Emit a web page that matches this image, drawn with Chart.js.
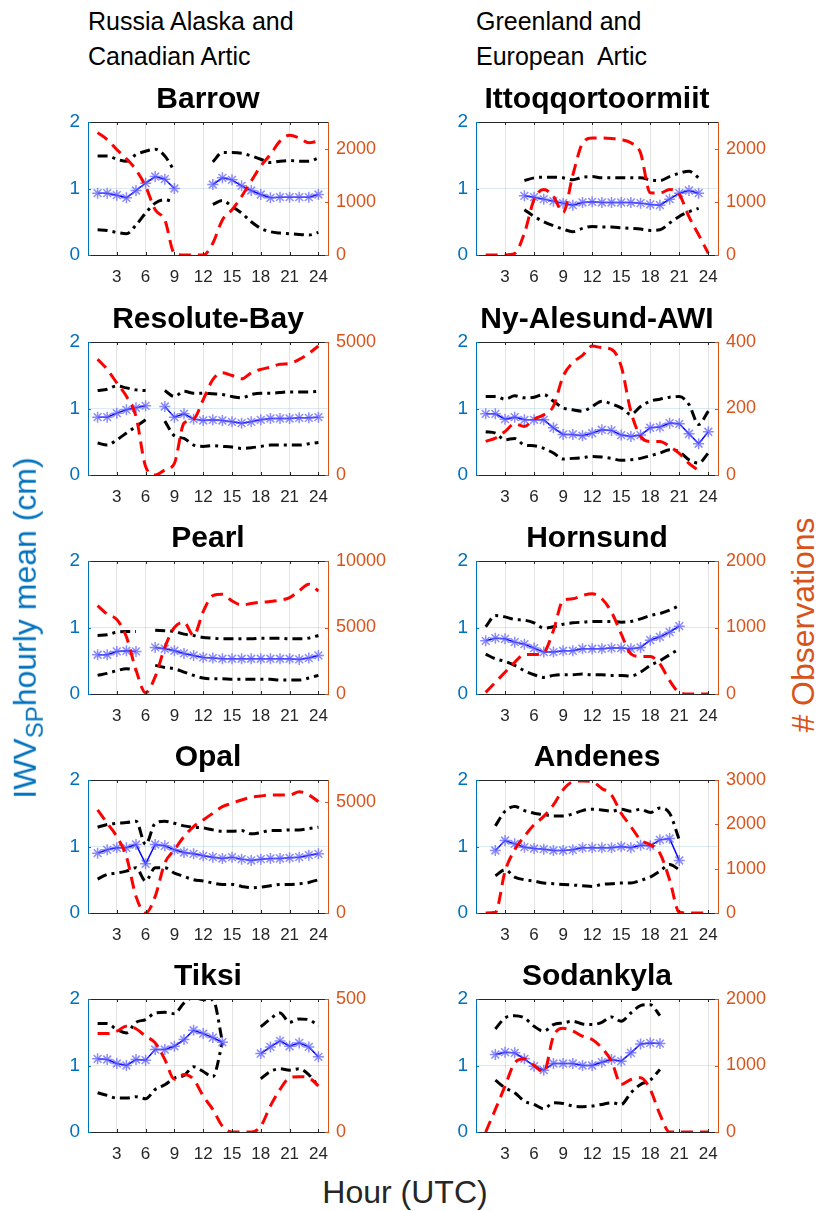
<!DOCTYPE html>
<html>
<head>
<meta charset="utf-8">
<script src="https://cdn.jsdelivr.net/npm/chart.js@4.4.1/dist/chart.umd.min.js"></script>
<style>
  body { margin: 0; background: #fff; width: 817px; height: 1211px; position: relative; overflow: hidden;
         font-family: "Liberation Sans", Arial, sans-serif; }
  canvas { position: absolute; }
  .hdr { position: absolute; font-size: 25px; line-height: 35px; color: #000; white-space: pre; }
  .lab { position: absolute; white-space: nowrap; font-size: 32px; line-height: 36px; }
  .rot { transform: translate(-50%, -50%) rotate(-90deg); }
  .mid { transform: translate(-50%, -50%); }
</style>
</head>
<body>
<div class="hdr" style="left:88px; top:4px;">Russia Alaska and
Canadian Artic</div>
<div class="hdr" style="left:476px; top:4px;">Greenland and
European  Artic</div>

<canvas id="c0" width="376" height="205" style="left:20px; top:80px;"></canvas>
<canvas id="c1" width="374" height="205" style="left:410px; top:80px;"></canvas>
<canvas id="c2" width="376" height="205" style="left:20px; top:300px;"></canvas>
<canvas id="c3" width="374" height="205" style="left:410px; top:300px;"></canvas>
<canvas id="c4" width="376" height="205" style="left:20px; top:519px;"></canvas>
<canvas id="c5" width="374" height="205" style="left:410px; top:519px;"></canvas>
<canvas id="c6" width="376" height="205" style="left:20px; top:738px;"></canvas>
<canvas id="c7" width="374" height="205" style="left:410px; top:738px;"></canvas>
<canvas id="c8" width="376" height="205" style="left:20px; top:957px;"></canvas>
<canvas id="c9" width="374" height="205" style="left:410px; top:957px;"></canvas>

<div class="lab rot" style="left:30px; top:628px; color:#0072BD;">IWV<sub style="font-size:24px;">SP</sub>hourly mean (cm)</div>
<div class="lab rot" style="left:803px; top:625px; color:#D95319;"># Observations</div>
<div class="lab mid" style="left:405px; top:1192px; color:#262626;">Hour (UTC)</div>

<script>
// hours of the day and axis ticks
const hours = [1, 2, 3, 4, 5, 6, 7, 8, 9, 10, 11, 12, 13, 14, 15, 16, 17, 18, 19, 20, 21, 22, 23, 24];
const hourTicks = [3, 6, 9, 12, 15, 18, 21, 24];
const iwvTicks = [0, 1, 2];

// Barrow
const barrowMean  = [0.93, 0.93, 0.90, 0.86, 0.97, 1.08, 1.18, 1.14, 1.00, null, null, null, 1.06, 1.16, 1.13, 1.04, 0.97, 0.91, 0.86, 0.87, 0.87, 0.87, 0.87, 0.91];
const barrowUpper = [1.49, 1.49, 1.44, 1.41, 1.51, 1.56, 1.59, 1.49, 1.26, null, null, null, 1.40, 1.54, 1.54, 1.53, 1.49, 1.44, 1.39, 1.41, 1.42, 1.41, 1.41, 1.46];
const barrowLower = [0.38, 0.37, 0.34, 0.32, 0.45, 0.63, 0.78, 0.83, 0.79, null, null, null, 0.76, 0.82, 0.73, 0.63, 0.50, 0.40, 0.35, 0.33, 0.32, 0.31, 0.30, 0.34];
const barrowObs   = [2300, 2170, 1980, 1810, 1600, 1290, 850, 660, 30, 0, 0, 0, 220, 660, 850, 1100, 1390, 1670, 1890, 2140, 2250, 2200, 2110, 2140];
const barrowObsTicks = [0, 1000, 2000];

// Ittoqqortoormiit
const ittoMean  = [null, null, null, null, 0.89, 0.87, 0.84, 0.81, 0.78, 0.75, 0.79, 0.80, 0.79, 0.79, 0.79, 0.79, 0.78, 0.76, 0.75, 0.84, 0.93, 0.97, 0.93, null];
const ittoUpper = [null, null, null, null, 1.12, 1.16, 1.17, 1.17, 1.16, 1.13, 1.17, 1.18, 1.16, 1.16, 1.16, 1.16, 1.16, 1.13, 1.12, 1.18, 1.23, 1.26, 1.16, null];
const ittoLower = [null, null, null, null, 0.68, 0.58, 0.50, 0.44, 0.39, 0.35, 0.40, 0.43, 0.42, 0.42, 0.41, 0.40, 0.39, 0.37, 0.38, 0.48, 0.58, 0.65, 0.70, null];
const ittoObs   = [0, 0, 0, 30, 410, 1040, 1230, 1100, 800, 1500, 2100, 2200, 2200, 2190, 2170, 2110, 1920, 1170, 1165, 1230, 1140, 720, 380, 30];
const ittoObsTicks = [0, 1000, 2000];

// Resolute-Bay
const resoluteMean  = [0.87, 0.87, 0.93, 0.98, 1.01, 1.04, null, 1.03, 0.87, 0.92, 0.84, 0.82, 0.83, 0.82, 0.80, 0.78, 0.80, 0.83, 0.85, 0.85, 0.85, 0.86, 0.86, 0.87];
const resoluteUpper = [1.27, 1.29, 1.34, 1.31, 1.28, 1.27, null, 1.27, 1.18, 1.26, 1.23, 1.23, 1.22, 1.21, 1.18, 1.16, 1.21, 1.23, 1.23, 1.24, 1.25, 1.25, 1.25, 1.26];
const resoluteLower = [0.48, 0.45, 0.53, 0.63, 0.73, 0.83, null, 0.81, 0.59, 0.55, 0.45, 0.43, 0.44, 0.43, 0.42, 0.40, 0.41, 0.43, 0.45, 0.45, 0.45, 0.45, 0.47, 0.49];
const resoluteObs   = [4350, 3970, 3460, 2960, 2200, 320, 0, 190, 440, 1950, 2100, 2830, 3590, 3840, 3740, 3615, 3840, 3970, 4055, 4160, 4190, 4345, 4570, 4850];
const resoluteObsTicks = [0, 5000];

// Ny-Alesund-AWI
const nyMean  = [0.92, 0.92, 0.84, 0.87, 0.83, 0.83, 0.83, 0.71, 0.61, 0.61, 0.59, 0.63, 0.68, 0.67, 0.60, 0.58, 0.60, 0.71, 0.72, 0.78, 0.77, 0.62, 0.47, 0.65];
const nyUpper = [1.18, 1.18, 1.14, 1.19, 1.16, 1.17, 1.21, 1.11, 1.01, 0.98, 0.96, 1.03, 1.11, 1.07, 1.01, 0.91, 1.03, 1.11, 1.14, 1.17, 1.18, 1.06, 0.76, 0.96];
const nyLower = [0.65, 0.63, 0.53, 0.55, 0.45, 0.44, 0.40, 0.33, 0.24, 0.25, 0.26, 0.28, 0.27, 0.25, 0.22, 0.23, 0.25, 0.29, 0.33, 0.38, 0.35, 0.23, 0.18, 0.33];
const nyObs   = [101, 111, 131, 154, 146, 168, 181, 207, 297, 338, 360, 388, 383, 378, 327, 191, 116, 101, 101, 86, 65, 35, 13, null];
const nyObsTicks = [0, 200, 400];

// Pearl
const pearlMean  = [0.59, 0.59, 0.64, 0.65, 0.64, null, 0.70, 0.68, 0.65, 0.61, 0.58, 0.55, 0.54, 0.53, 0.53, 0.53, 0.53, 0.53, 0.53, 0.53, 0.53, 0.52, 0.54, 0.58];
const pearlUpper = [0.88, 0.89, 0.93, 0.94, 0.94, null, 0.96, 0.95, 0.94, 0.90, 0.88, 0.85, 0.84, 0.83, 0.83, 0.83, 0.83, 0.84, 0.84, 0.84, 0.83, 0.83, 0.84, 0.88];
const pearlLower = [0.28, 0.31, 0.35, 0.38, 0.36, null, 0.43, 0.40, 0.38, 0.33, 0.28, 0.24, 0.23, 0.23, 0.22, 0.22, 0.22, 0.22, 0.22, 0.21, 0.21, 0.21, 0.24, 0.28];
const pearlObs   = [6650, 6000, 5600, 4300, 1800, 100, 1300, 3500, 5000, 5400, 4400, 6200, 7400, 7500, 7000, 6700, 6800, 6900, 6950, 7050, 7250, 7750, 8250, 7750];
const pearlObsTicks = [0, 5000, 10000];

// Hornsund
const hornMean  = [0.80, 0.84, 0.83, 0.78, 0.75, 0.69, 0.63, 0.63, 0.65, 0.65, 0.68, 0.68, 0.68, 0.69, 0.69, 0.68, 0.70, 0.81, 0.86, 0.93, 1.02, null, null, null];
const hornUpper = [1.01, 1.18, 1.16, 1.12, 1.11, 1.07, 0.99, 1.01, 1.05, 1.07, 1.08, 1.09, 1.09, 1.09, 1.08, 1.09, 1.13, 1.18, 1.21, 1.26, 1.33, null, null, null];
const hornLower = [0.60, 0.53, 0.49, 0.43, 0.35, 0.29, 0.25, 0.28, 0.29, 0.29, 0.30, 0.29, 0.29, 0.28, 0.28, 0.27, 0.33, 0.43, 0.50, 0.59, 0.68, null, null, null];
const hornObs   = [25, 176, 327, 477, 593, 593, 623, 955, 1407, 1432, 1482, 1508, 1432, 1231, 905, 603, 563, 563, 452, 201, 25, 0, 0, 0];
const hornObsTicks = [0, 1000, 2000];

// Opal
const opalMean  = [0.90, 0.95, 0.98, 0.98, 1.03, 0.74, 1.03, 1.01, 0.95, 0.91, 0.89, 0.86, 0.84, 0.82, 0.84, 0.81, 0.79, 0.81, 0.82, 0.82, 0.83, 0.84, 0.87, 0.89];
const opalUpper = [1.29, 1.33, 1.35, 1.36, 1.38, 1.03, 1.35, 1.38, 1.35, 1.31, 1.29, 1.28, 1.25, 1.23, 1.23, 1.24, 1.19, 1.21, 1.24, 1.24, 1.25, 1.25, 1.27, 1.29];
const opalLower = [0.51, 0.58, 0.60, 0.63, 0.68, 0.48, 0.68, 0.68, 0.60, 0.55, 0.50, 0.48, 0.45, 0.43, 0.43, 0.40, 0.38, 0.39, 0.41, 0.43, 0.43, 0.44, 0.46, 0.50];
const opalObs   = [4650, 4050, 3450, 2550, 750, 0, 750, 2250, 2850, 3450, 3900, 4200, 4500, 4800, 4950, 5100, 5220, 5280, 5325, 5325, 5325, 5475, 5325, 5025];
const opalObsTicks = [0, 5000];

// Andenes
const andenesMean  = [null, 0.94, 1.09, 1.04, 0.99, 0.97, 0.96, 0.94, 0.94, 0.95, 0.98, 0.98, 0.98, 0.98, 1.00, 0.98, 1.02, 1.01, 1.10, 1.12, 0.79, null, null, null];
const andenesUpper = [null, 1.31, 1.53, 1.60, 1.54, 1.50, 1.48, 1.46, 1.46, 1.49, 1.54, 1.56, 1.55, 1.53, 1.56, 1.53, 1.56, 1.51, 1.58, 1.50, 1.10, null, null, null];
const andenesLower = [null, 0.56, 0.65, 0.54, 0.50, 0.48, 0.45, 0.44, 0.43, 0.42, 0.41, 0.40, 0.43, 0.44, 0.45, 0.45, 0.49, 0.54, 0.63, 0.73, 0.65, null, null, null];
const andenesObs   = [0, 15, 940, 1430, 1730, 1990, 2180, 2440, 2780, 2960, 2980, 2960, 2810, 2660, 2250, 1950, 1650, 1540, 1350, 750, 15, 0, 0, 0];
const andenesObsTicks = [0, 1000, 2000, 3000];

// Tiksi
const tiksiMean  = [1.10, 1.09, 1.03, 1.00, 1.09, 1.08, 1.24, 1.24, 1.29, 1.39, 1.53, 1.48, 1.42, 1.35, null, null, null, 1.18, 1.28, 1.37, 1.29, 1.34, 1.28, 1.13];
const tiksiUpper = [1.63, 1.63, 1.54, 1.49, 1.65, 1.69, 1.79, 1.80, 1.78, 1.94, 2.02, 1.99, 1.99, 1.36, null, null, null, 1.58, 1.70, 1.79, 1.65, 1.70, 1.69, 1.59];
const tiksiLower = [0.59, 0.55, 0.51, 0.51, 0.53, 0.50, 0.64, 0.71, 0.81, 0.85, 0.98, 0.91, 0.83, 1.34, null, null, null, 0.80, 0.91, 0.95, 0.93, 0.95, 0.86, 0.69];
const tiksiObs   = [370, 370, 379, 398, 388, 360, 335, 273, 198, 216, 198, 135, 85, 22, 0, 0, 0, 22, 98, 160, 204, 208, 204, 173];
const tiksiObsTicks = [0, 500];

// Sodankyla
const sodMean  = [null, 1.165, 1.20, 1.19, 1.10, 0.99, 0.93, 1.03, 1.03, 1.03, 1.00, 1.00, 1.05, 1.09, 1.065, 1.19, 1.325, 1.34, 1.33, null, null, null, null, null];
const sodUpper = [null, 1.55, 1.715, 1.75, 1.715, 1.59, 1.515, 1.615, 1.64, 1.665, 1.625, 1.615, 1.65, 1.73, 1.665, 1.79, 1.90, 1.915, 1.75, null, null, null, null, null];
const sodLower = [null, 0.78, 0.665, 0.59, 0.465, 0.415, 0.35, 0.44, 0.43, 0.39, 0.38, 0.39, 0.415, 0.44, 0.415, 0.59, 0.715, 0.78, 0.94, null, null, null, null, null];
const sodObs   = [0, 340, 690, 1040, 1100, 1000, 900, 1440, 1560, 1520, 1440, 1390, 1265, 1065, 715, 790, 815, 640, 265, 0, 0, 0, 0, 0];
const sodObsTicks = [0, 1000, 2000];

const FONT = "'Liberation Sans', Arial, sans-serif";
const BLUE = "#0072BD";
const ORANGE = "#D95319";

// MATLAB-like box: top line plus small inward tick marks
const boxPlugin = {
  id: "boxPlugin",
  afterDraw(chart) {
    const { ctx, chartArea: a, scales } = chart;
    ctx.save();
    ctx.lineWidth = 1;
    ctx.strokeStyle = "#262626";
    ctx.beginPath();
    ctx.moveTo(a.left, a.top + 0.5);
    ctx.lineTo(a.right, a.top + 0.5);
    scales.x.ticks.forEach((t) => {
      const px = Math.round(scales.x.getPixelForValue(t.value)) + 0.5;
      ctx.moveTo(px, a.bottom);
      ctx.lineTo(px, a.bottom - 3);
      ctx.moveTo(px, a.top);
      ctx.lineTo(px, a.top + 3);
    });
    ctx.stroke();
    ctx.strokeStyle = BLUE;
    ctx.beginPath();
    scales.y.ticks.forEach((t) => {
      const py = Math.round(scales.y.getPixelForValue(t.value)) + 0.5;
      ctx.moveTo(a.left, py);
      ctx.lineTo(a.left + 3, py);
    });
    ctx.stroke();
    ctx.strokeStyle = ORANGE;
    ctx.beginPath();
    scales.y1.ticks.forEach((t) => {
      const py = Math.round(scales.y1.getPixelForValue(t.value)) + 0.5;
      ctx.moveTo(a.right, py);
      ctx.lineTo(a.right - 3, py);
    });
    ctx.stroke();
    ctx.restore();
  },
};

function pts(arr) {
  return hours.map((h, i) => ({ x: h, y: arr[i] }));
}

function makeChart(id, name, mean, upper, lower, obs, obsMax, obsTicks, leftW, rightW) {
  const ctx = document.getElementById(id).getContext("2d");
  return new Chart(ctx, {
    type: "line",
    data: {
      datasets: [
        {
          label: "obs",
          data: pts(obs),
          yAxisID: "y1",
          borderColor: "#FF0000",
          borderWidth: 3,
          borderDash: [12, 7],
          pointRadius: 0,
          cubicInterpolationMode: "monotone",
        },
        {
          label: "mean",
          data: pts(mean),
          yAxisID: "y",
          borderColor: "#0000FF",
          borderWidth: 1.5,
          pointStyle: "star",
          pointRadius: 5.5,
          pointBorderColor: "rgba(100,100,255,0.75)",
          pointBorderWidth: 1.5,
          tension: 0,
        },
        {
          label: "upper",
          data: pts(upper),
          yAxisID: "y",
          borderColor: "#000000",
          borderWidth: 3,
          borderDash: [10, 5, 3, 5],
          pointRadius: 0,
          cubicInterpolationMode: "monotone",
        },
        {
          label: "lower",
          data: pts(lower),
          yAxisID: "y",
          borderColor: "#000000",
          borderWidth: 3,
          borderDash: [10, 5, 3, 5],
          pointRadius: 0,
          cubicInterpolationMode: "monotone",
        },
      ],
    },
    options: {
      responsive: false,
      animation: false,
      events: [],
      layout: { padding: 0 },
      plugins: {
        legend: { display: false },
        tooltip: { enabled: false },
        title: {
          display: true,
          text: name,
          color: "#000",
          font: { size: 30, weight: "bold", family: FONT },
          padding: { top: 2, bottom: 4 },
        },
      },
      scales: {
        x: {
          type: "linear",
          min: 0,
          max: 25,
          afterBuildTicks: (s) => { s.ticks = hourTicks.map((v) => ({ value: v })); },
          afterFit: (s) => { s.height = 30; },
          ticks: { color: "#262626", font: { size: 17, family: FONT }, padding: 12, maxRotation: 0, autoSkip: false },
          grid: { color: "#e4e4e4", drawTicks: false },
          border: { color: "#262626" },
        },
        y: {
          position: "left",
          min: 0,
          max: 2,
          afterBuildTicks: (s) => { s.ticks = iwvTicks.map((v) => ({ value: v })); },
          afterFit: (s) => { s.width = leftW; },
          ticks: { color: BLUE, font: { size: 19, family: FONT }, padding: 8, callback: (v) => String(v) },
          grid: { color: "rgba(0,114,189,0.15)", drawTicks: false },
          border: { color: BLUE },
        },
        y1: {
          position: "right",
          min: 0,
          max: obsMax,
          afterBuildTicks: (s) => { s.ticks = obsTicks.map((v) => ({ value: v })); },
          afterFit: (s) => { s.width = rightW; },
          ticks: { color: ORANGE, font: { size: 18, family: FONT }, padding: 8, callback: (v) => String(v) },
          grid: { display: false, drawTicks: false },
          border: { color: ORANGE },
        },
      },
    },
    plugins: [boxPlugin],
  });
}

makeChart("c0", "Barrow", barrowMean, barrowUpper, barrowLower, barrowObs, 2500, barrowObsTicks, 68, 68);
makeChart("c1", "Ittoqqortoormiit", ittoMean, ittoUpper, ittoLower, ittoObs, 2500, ittoObsTicks, 66, 66);
makeChart("c2", "Resolute-Bay", resoluteMean, resoluteUpper, resoluteLower, resoluteObs, 5000, resoluteObsTicks, 68, 68);
makeChart("c3", "Ny-Alesund-AWI", nyMean, nyUpper, nyLower, nyObs, 400, nyObsTicks, 66, 66);
makeChart("c4", "Pearl", pearlMean, pearlUpper, pearlLower, pearlObs, 10000, pearlObsTicks, 68, 68);
makeChart("c5", "Hornsund", hornMean, hornUpper, hornLower, hornObs, 2000, hornObsTicks, 66, 66);
makeChart("c6", "Opal", opalMean, opalUpper, opalLower, opalObs, 6000, opalObsTicks, 68, 68);
makeChart("c7", "Andenes", andenesMean, andenesUpper, andenesLower, andenesObs, 3000, andenesObsTicks, 66, 66);
makeChart("c8", "Tiksi", tiksiMean, tiksiUpper, tiksiLower, tiksiObs, 500, tiksiObsTicks, 68, 68);
makeChart("c9", "Sodankyla", sodMean, sodUpper, sodLower, sodObs, 2000, sodObsTicks, 66, 66);
</script>
</body>
</html>
